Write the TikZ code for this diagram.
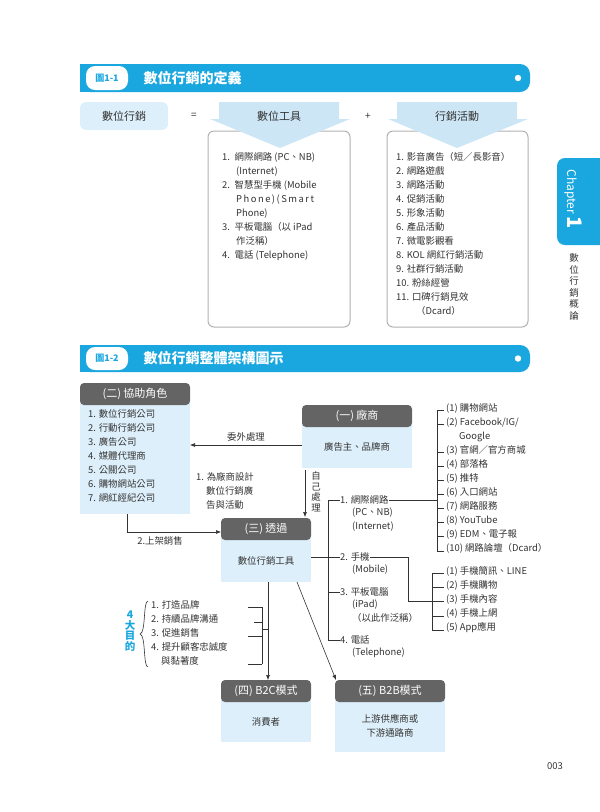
\documentclass[tikz,border=0pt]{standalone}
\usepackage{fontspec}
\setmainfont{Noto Sans CJK TC}
\usetikzlibrary{arrows.meta,decorations.pathreplacing}
\definecolor{hblue}{HTML}{1AA7E0}
\definecolor{lblue}{HTML}{DDEFFA}
\definecolor{cblue}{HTML}{CDE6F6}
\definecolor{dgray}{HTML}{646464}
\definecolor{tx}{HTML}{333333}
\tikzset{
  lst/.style={anchor=north west,inner sep=0pt,align=left,font=\fontsize{9.4}{14}\selectfont,text=tx},
  ghead/.style={fill=dgray,rounded corners=4pt,text=white,font=\fontsize{10}{12}\selectfont},
  body/.style={fill=lblue},
  btxt/.style={font=\fontsize{9.4}{14}\selectfont,text=tx,align=center,inner sep=0pt},
  con/.style={draw=tx,line width=0.6pt},
  arr/.style={con,-{Latex[length=5pt,width=4pt]}},
}
\begin{document}
\begin{tikzpicture}[x=1pt,y=-1pt]
\useasboundingbox (0,0) rectangle (600,812);
% ---------- header 1
\fill[hblue,rounded corners=10pt] (80,64) rectangle (530,92);
\fill[hblue] (80,64) rectangle (400,92);
\fill[white,rounded corners=9pt] (86,66) rectangle (128,90);
\node[text=hblue,font=\bfseries\fontsize{9}{10}\selectfont] (h1a) at (107,78) {圖1-1};
\node[anchor=west,text=white,font=\bfseries\fontsize{14}{16}\selectfont] (h1b) at (140,78) {數位行銷的定義};
\fill[white] (518,78) circle (3.2);
% row
\fill[lblue,rounded corners=6pt] (80,102) rectangle (168,130);
\node[btxt,font=\fontsize{11}{12}\selectfont] (dm) at (124,116) {數位行銷};
\node[text=tx] (eq) at (194,116) {=};
\node[text=tx] (pl) at (368,116) {+};
% box 1
\draw[gray!60,line width=1pt,rounded corners=6pt,fill=white] (208,131) rectangle (350,327);
\fill[cblue] (219,102)--(339,102)--(339,119)--(350,119)--(280,148)--(210,119)--(219,119)--cycle;
\node[btxt,font=\fontsize{11}{12}\selectfont] (t1) at (279,116) {數位工具};
\node[lst] (l1) at (222,152) {1.\enspace 網際網路 (PC、NB)\\\hspace{14pt}(Internet)\\2.\enspace 智慧型手機 (Mobile\\\hspace{14pt}P\kern1.5pt h\kern1.5pt o\kern1.5pt n\kern1.5pt e\kern1.5pt )\kern1.5pt (\kern1.5pt S\kern1.5pt m\kern1.5pt a\kern1.5pt r\kern1.5pt t\\\hspace{14pt}Phone)\\3.\enspace 平板電腦（以 iPad\\\hspace{14pt}作泛稱）\\4.\enspace 電話 (Telephone)};
% box 2
\draw[gray!60,line width=1pt,rounded corners=6pt,fill=white] (387,131) rectangle (528,327);
\fill[cblue] (397,102)--(517,102)--(517,119)--(528,119)--(457,148)--(388,119)--(397,119)--cycle;
\node[btxt,font=\fontsize{11}{12}\selectfont] (t2) at (457,116) {行銷活動};
\node[lst] (l2) at (396,152) {1. 影音廣告（短／長影音）\\2. 網路遊戲\\3. 網路活動\\4. 促銷活動\\5. 形象活動\\6. 產品活動\\7. 微電影觀看\\8. KOL 網紅行銷活動\\9. 社群行銷活動\\10. 粉絲經營\\11. 口碑行銷見效\\\hspace{20pt}（Dcard）};
% chapter tab
\fill[hblue,rounded corners=8pt] (557,158) rectangle (610,245);
\node[rotate=-90,text=white,font=\fontsize{12}{12}\selectfont,anchor=west] (ch) at (573,166) {Chapter\ \textbf{\fontsize{20}{20}\selectfont 1}};
\node[font=\fontsize{9.5}{11.5}\selectfont,text=tx,align=center] (cht) at (574,287) {數\\位\\行\\銷\\概\\論};
% ---------- header 2
\fill[hblue,rounded corners=10pt] (80,345) rectangle (530,372);
\fill[hblue] (80,345) rectangle (400,372);
\fill[white,rounded corners=9pt] (86,347) rectangle (128,370);
\node[text=hblue,font=\bfseries\fontsize{9}{10}\selectfont] (h2a) at (107,358.5) {圖1-2};
\node[anchor=west,text=white,font=\bfseries\fontsize{14}{16}\selectfont] (h2b) at (140,358.5) {數位行銷整體架構圖示};
\fill[white] (518,358.5) circle (3.2);
% (二)
\fill[body] (80,400) rectangle (190,514);
\fill[ghead] (80,383) rectangle (190,405);
\node[text=white,font=\fontsize{11}{12}\selectfont] (b2h) at (135,394) {(二) 協助角色};
\node[lst] (b2l) at (88,409) {1. 數位行銷公司\\2. 行動行銷公司\\3. 廣告公司\\4. 媒體代理商\\5. 公關公司\\6. 購物網站公司\\7. 網紅經紀公司};
% (一)
\fill[body] (302,420) rectangle (412,468);
\fill[ghead] (302,405) rectangle (412,427);
\node[text=white,font=\fontsize{11}{12}\selectfont] (b1h) at (357,416) {(一) 廠商};
\node[btxt] (b1) at (357,447) {廣告主、品牌商};
% (三)
\fill[body] (221,535) rectangle (311,582);
\fill[ghead] (221,518) rectangle (311,540);
\node[text=white,font=\fontsize{11}{12}\selectfont] (b3h) at (266,529) {(三) 透過};
\node[btxt] (b3) at (266,561) {數位行銷工具};
% (四)
\fill[body] (221,697) rectangle (311,742);
\fill[ghead] (221,680) rectangle (311,702);
\node[text=white,font=\fontsize{11}{12}\selectfont] (b4h) at (266,691) {(四) B2C模式};
\node[btxt] (b4) at (266,722) {消費者};
% (五)
\fill[body] (335,697) rectangle (445,752);
\fill[ghead] (335,680) rectangle (445,702);
\node[text=white,font=\fontsize{11}{12}\selectfont] (b5h) at (390,691) {(五) B2B模式};
\node[btxt] (b5) at (390,726) {上游供應商或\\下游通路商};
% arrows
\coordinate (o1) at (302,445); \coordinate (o2) at (190,445);
\draw[arr] (o1) -- node[above=3pt,btxt] (lbo) {委外處理} (o2);
\coordinate (s1) at (305,470); \coordinate (s2) at (305,517);
\draw[arr] (s1) -- (s2);
\node[btxt,align=center,font=\fontsize{9.4}{10.5}\selectfont] (lbs) at (316,492) {自\\己\\處\\理};
\node[lst] (lb1) at (196,472) {1. 為廠商設計\\\hspace{10pt}數位行銷廣\\\hspace{10pt}告與活動};
\coordinate (u1) at (127,514); \coordinate (u2) at (127,532); \coordinate (u3) at (221,532);
\draw[arr] (u1) -- (u2) -- (u3);
\node[btxt] (lbu) at (160,541) {2.上架銷售};
% tools tree
\node[lst,anchor=west] (i1) at (340,500) {1. 網際網路};
\node[lst] (i1b) at (352,508) {(PC、NB)\\(Internet)};
\node[lst,anchor=west] (i2) at (340,557) {2. 手機};
\node[lst] (i2b) at (352,565) {(Mobile)};
\node[lst,anchor=west] (i3) at (340,592) {3. 平板電腦};
\node[lst] (i3b) at (352,600) {(iPad)\\（以此作泛稱）};
\node[lst,anchor=west] (i4) at (340,640) {4. 電話};
\node[lst] (i4b) at (352,648) {(Telephone)};
\draw[con] (328,500) -- (328,640);
\foreach \n in {i1,i3,i4} \draw[con] (328,0 |- \n.west) -- (\n.west);
\coordinate (j1) at (311,557);
\draw[con] (j1) -- (i2.west);
% internet list
\node[lst] (w) at (446,403) {(1) 購物網站\\(2) Facebook/IG/\\\hspace{13pt}Google\\(3) 官網／官方商城\\(4) 部落格\\(5) 推特\\(6) 入口網站\\(7) 網路服務\\(8) YouTube\\(9) EDM、電子報\\(10) 網路論壇（Dcard）};
\draw[con] (437,410) -- (437,551);
\foreach \y in {410,424,452,466,480,494,508,522,536,551} \draw[con] (437,\y) -- (444,\y);
\draw[con] (i1.east) -- (437,500);
% mobile list
\node[lst] (m) at (446,566) {(1) 手機簡訊、LINE\\(2) 手機購物\\(3) 手機內容\\(4) 手機上網\\(5) App應用};
\draw[con] (432,573) -- (432,630);
\foreach \y in {573,587,601,616,630} \draw[con] (432,\y) -- (444,\y);
\draw[con] (i2.east) -- (408,557) -- (408,601) -- (432,601);
% goals
\node[text=hblue,font=\bfseries\fontsize{10.5}{10.5}\selectfont,align=center] (g4) at (130,631) {4\\大\\目\\的};
\draw[tx,line width=0.6pt] (148,601) .. controls (143,601) and (146,633) .. (140,634) .. controls (146,635) and (143,667) .. (148,667);
\node[lst] (g) at (151,600) {1. 打造品牌\\2. 持續品牌溝通\\3. 促進銷售\\4. 提升顧客忠誠度\\\hspace{10pt}與黏著度};
\draw[con] (262,607) -- (262,664);
\foreach \y/\xx in {607/248,622/254,636/248,664/248} \draw[con] (\xx,\y) -- (262,\y);
\coordinate (a1) at (268,582); \coordinate (a2) at (268,680);
\draw[con] (262,629) -- (268,629);
\draw[arr] (a1) -- (a2);
\coordinate (c1) at (297,582); \coordinate (c2) at (336,680);
\draw[arr] (c1) -- (c2);
\node[font=\fontsize{9.5}{10}\selectfont,text=tx] (pg) at (555,766) {003};
\end{tikzpicture}
\end{document}
